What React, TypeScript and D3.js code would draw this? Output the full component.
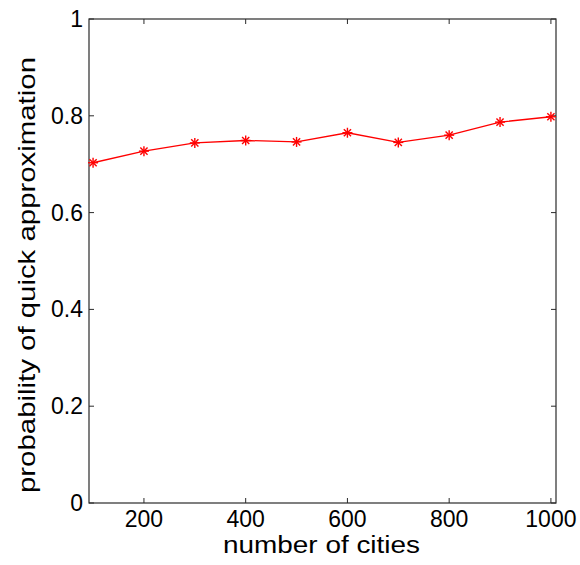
import React from "react";
import * as d3 from "d3";

// number of cities on the x axis
const cities = [100, 200, 300, 400, 500, 600, 700, 800, 900, 1000];
// probability of reaching a quick approximation
const probability = [0.703, 0.727, 0.744, 0.749, 0.746, 0.765, 0.745, 0.76, 0.787, 0.798];
const xTicks = [200, 400, 600, 800, 1000];
const yTicks = [0, 0.2, 0.4, 0.6, 0.8, 1];
const xTitle = "number of cities";
const yTitle = "probability of quick approximation";

const W = 580;
const H = 565;
const left = 89;
const right = 556;
const top = 19;
const bottom = 503;
const font = "'Liberation Sans', Arial, Helvetica, sans-serif";

export default function App() {
  const x = d3.scaleLinear().domain([92, 1010]).range([left, right]);
  const y = d3.scaleLinear().domain([0, 1]).range([bottom, top]);
  const line = d3
    .line<number>()
    .x((_, i) => x(cities[i]))
    .y((d) => y(d));
  const tick = 5;
  const axisColor = "#2a2a2a";
  const m = 5; // half size of the asterisk marker
  const md = m * 0.72;

  return (
    <svg
      width={W}
      height={H}
      style={{ position: "absolute", left: 0, top: 0, background: "#fff" }}
      fontFamily={font}
    >
      <rect x={0} y={0} width={W} height={H} fill="#fff" />
      {/* ticks on all four sides, pointing inward */}
      {xTicks.map((t) => (
        <g key={"xt" + t} stroke={axisColor} strokeWidth={1}>
          <line x1={x(t)} x2={x(t)} y1={bottom} y2={bottom - tick} />
          <line x1={x(t)} x2={x(t)} y1={top} y2={top + tick} />
        </g>
      ))}
      {yTicks.map((t) => (
        <g key={"yt" + t} stroke={axisColor} strokeWidth={1}>
          <line x1={left} x2={left + tick} y1={y(t)} y2={y(t)} />
          <line x1={right} x2={right - tick} y1={y(t)} y2={y(t)} />
        </g>
      ))}
      <rect
        x={left}
        y={top}
        width={right - left}
        height={bottom - top}
        fill="none"
        stroke={axisColor}
        strokeWidth={1.2}
      />
      {/* tick labels */}
      {xTicks.map((t) => (
        <text
          key={"xl" + t}
          x={x(t)}
          y={527}
          textAnchor="middle"
          fontSize={23}
          fill="#000"
        >
          {t}
        </text>
      ))}
      {yTicks.map((t) => (
        <text
          key={"yl" + t}
          x={83}
          y={y(t) + 8}
          textAnchor="end"
          fontSize={23}
          fill="#000"
        >
          {t === 0 || t === 1 ? String(t) : t.toFixed(1)}
        </text>
      ))}
      {/* axis titles */}
      <text
        x={321.5}
        y={553}
        textAnchor="middle"
        fontSize={23.5}
        fill="#000"
        textLength={197}
        lengthAdjust="spacingAndGlyphs"
      >
        {xTitle}
      </text>
      <text
        transform={`translate(35, 275) rotate(-90)`}
        textAnchor="middle"
        fontSize={24}
        fill="#000"
        textLength={436}
        lengthAdjust="spacingAndGlyphs"
      >
        {yTitle}
      </text>
      {/* data line with asterisk markers */}
      <path d={line(probability) ?? ""} fill="none" stroke="#ff0000" strokeWidth={1.3} />
      {probability.map((p, i) => {
        const cx = x(cities[i]);
        const cy = y(p);
        return (
          <g key={"m" + i} stroke="#ff0000" strokeWidth={1.4}>
            <line x1={cx - m} x2={cx + m} y1={cy} y2={cy} />
            <line x1={cx} x2={cx} y1={cy - m} y2={cy + m} />
            <line x1={cx - md} x2={cx + md} y1={cy - md} y2={cy + md} />
            <line x1={cx - md} x2={cx + md} y1={cy + md} y2={cy - md} />
          </g>
        );
      })}
    </svg>
  );
}
